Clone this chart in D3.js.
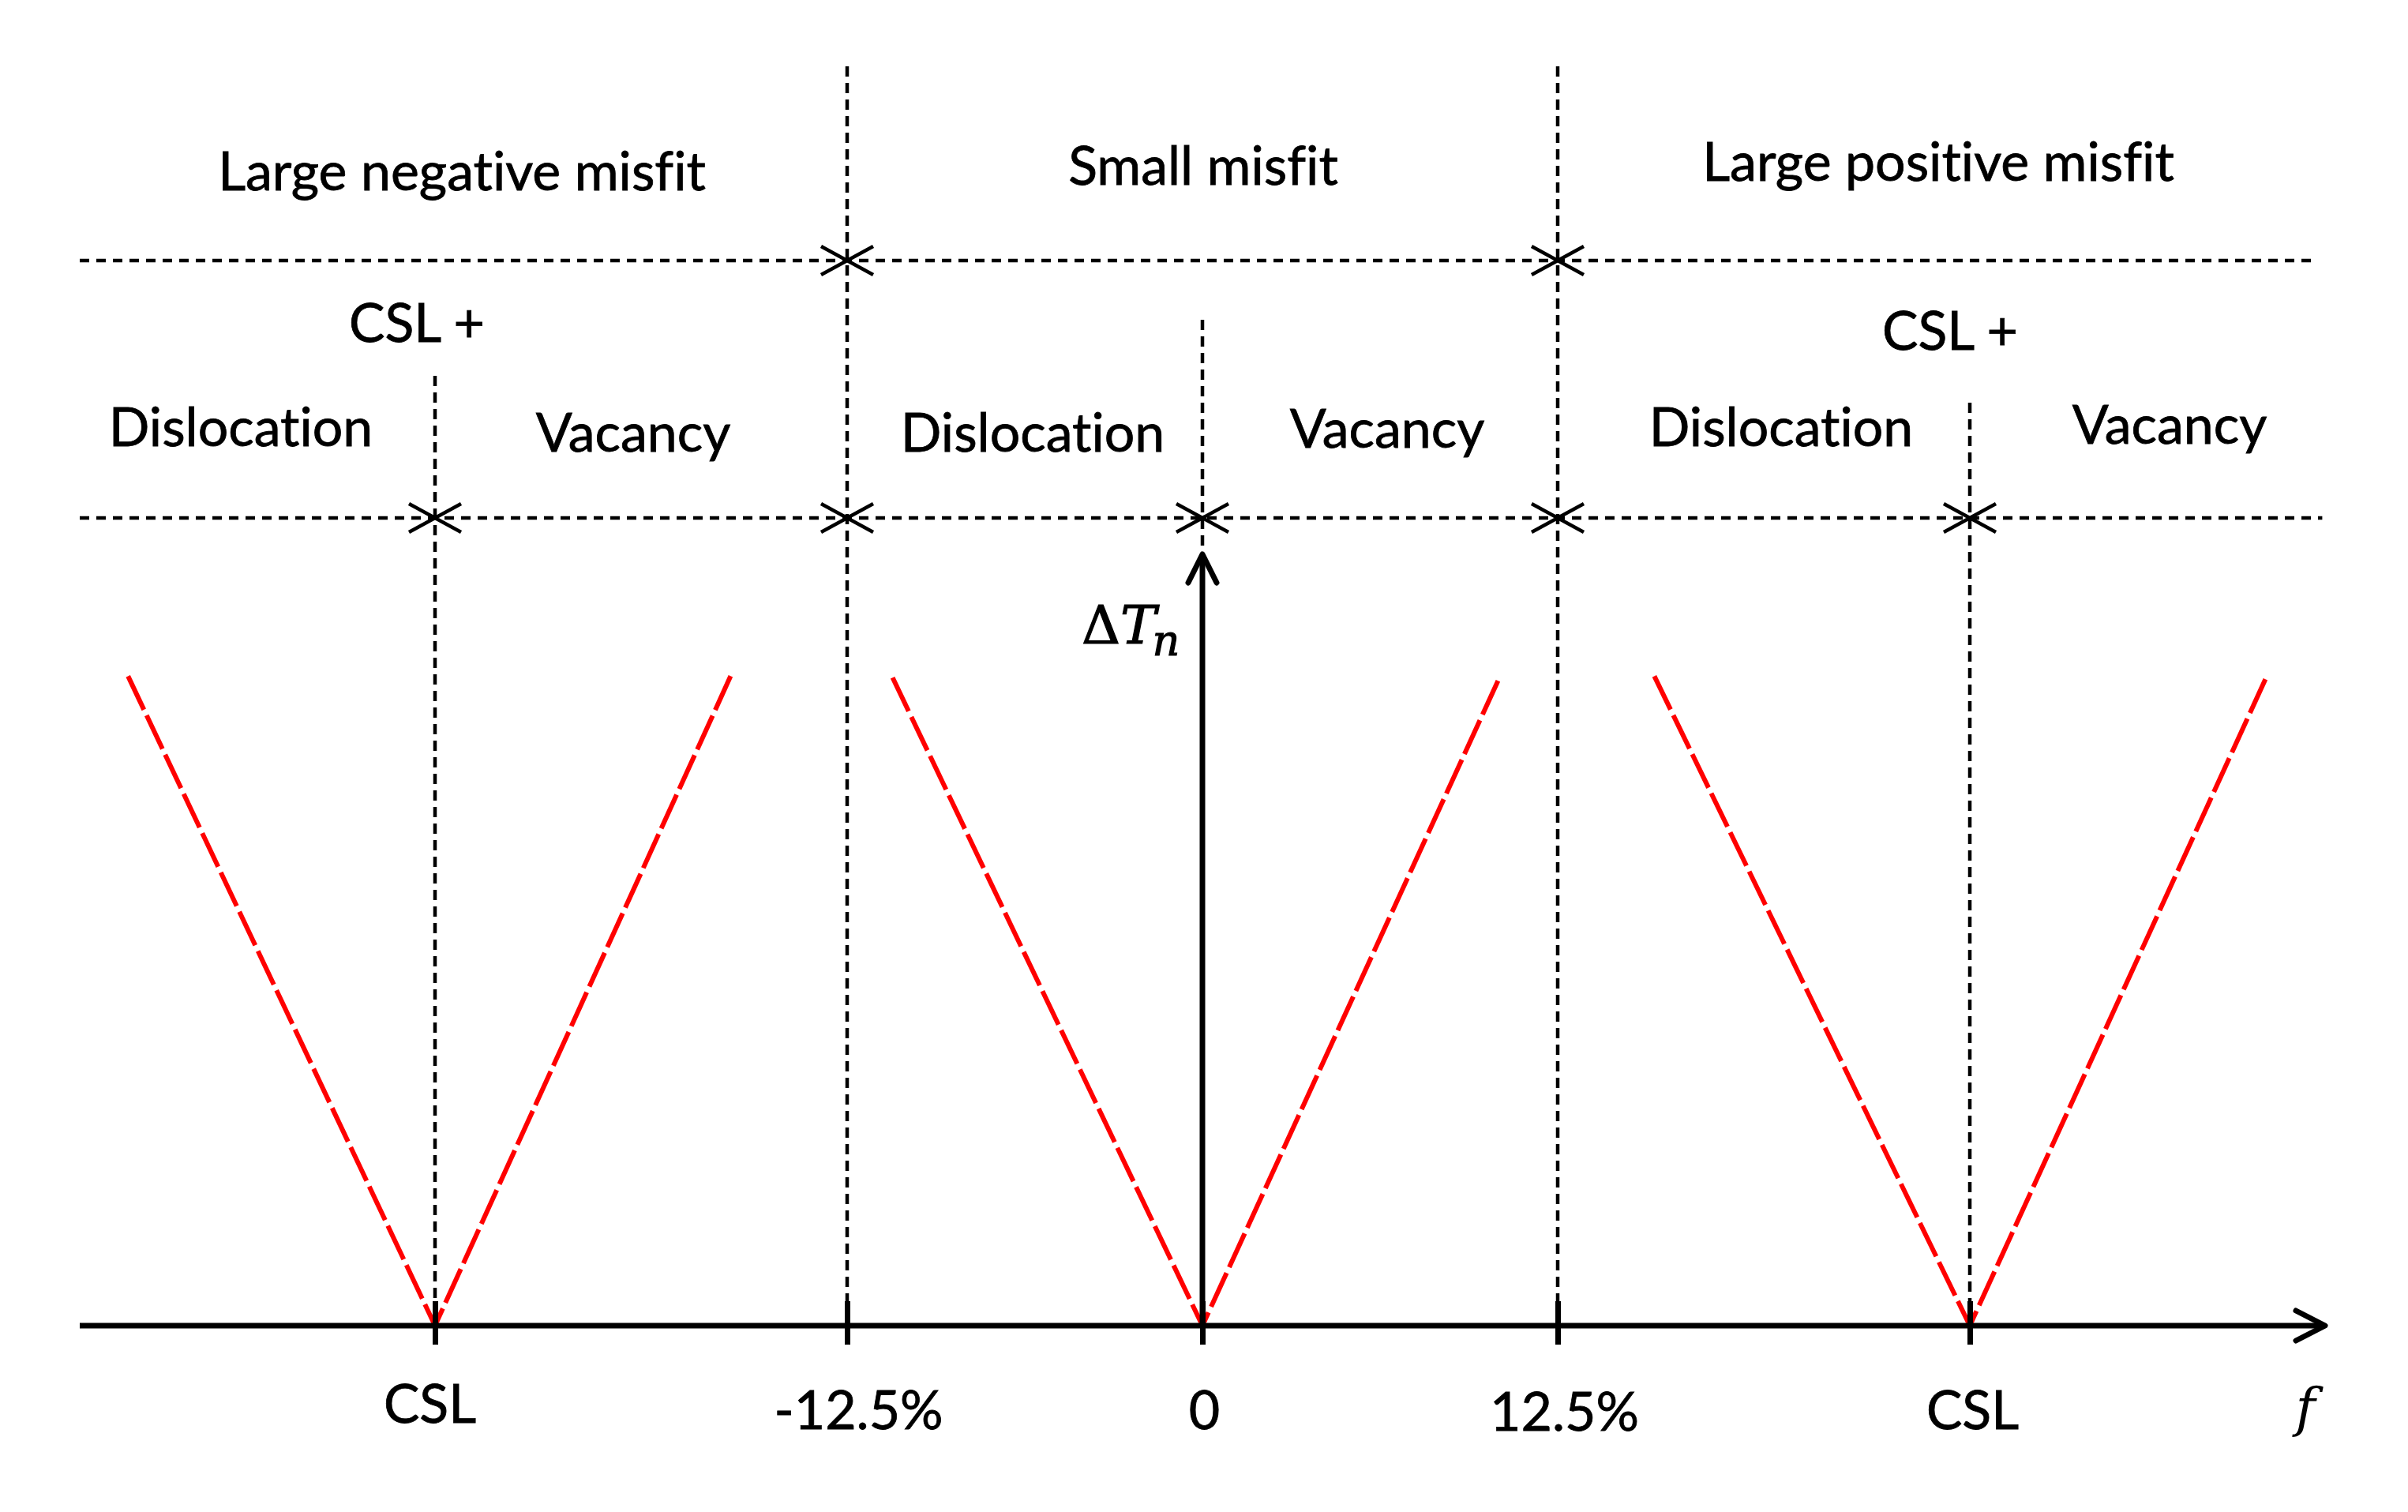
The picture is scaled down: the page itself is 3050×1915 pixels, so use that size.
<!DOCTYPE html>
<html lang="en">
<head>
<meta charset="UTF-8">
<title>Misfit regimes and ΔTn</title>
<script src="https://d3js.org/d3.v7.min.js"></script>
<style>
    body { margin: 0; background: #fff; }
    .lbl {
        font-family: Lato, 'Open Sans', sans-serif; font-size: 68px; fill: #000;
        font-variant-ligatures: none; font-feature-settings: "liga" 0, "clig" 0, "dlig" 0;
        stroke: #000; stroke-width: 0.8px;
    }
    .math { font-family: 'DejaVu Serif', serif; fill: #000; }
</style>
</head>
<body>
<div id="chart"></div>
<script>
    // misfit f (%) values
    const regionBounds = [-12.5, 12.5];
    const dividers = [-27, 0, 27];
    const tickValues = [-27, -12.5, 0, 12.5, 27];
    const tickLabels = ["CSL", "-12.5%", "0", "12.5%", "CSL"];
    const regionLabels = ["Large negative misfit", "Small misfit", "Large positive misfit"];
    const leftLabels = ["Dislocation", "Dislocation", "Dislocation"];
    const rightLabels = ["Vacancy", "Vacancy", "Vacancy"];
    const prefixLabels = ["CSL +", null, "CSL +"];

    // V-shaped ΔTn curves: vertex, arm ends (f) and arm heights (relative ΔTn)
    const vVertex = [-27, 0, 27];
    const vLeftF = [-37.8, -10.9, 15.9];
    const vRightF = [-16.6, 10.4, 37.4];
    const vLeftTop = [0.842, 0.840, 0.842];
    const vRightTop = [0.842, 0.836, 0.838];

    const width = 3050, height = 1915;

    const svg = d3.select("#chart").append("svg")
        .attr("width", width).attr("height", height)
        .attr("viewBox", `0 0 ${width} ${height}`);

    const x = d3.scaleLinear().domain([-40, 40]).range([83, 2963]);
    const y = d3.scaleLinear().domain([0, 1]).range([1679, 702]);

    // layout of the band rows (pixels)
    const rowTop = 330, rowMid = 656, lineTop = 84;
    const dividerTop = [476, 405, 510];
    const tickUp = 31, tickDown = 24;

    const dashBlack = g => g.attr("stroke", "#000").attr("stroke-width", 4.5).attr("fill", "none");

    // vertical region boundaries
    svg.selectAll(".bound").data(regionBounds).join("line")
        .attr("x1", d => x(d)).attr("x2", d => x(d))
        .attr("y1", lineTop).attr("y2", y(0) - tickUp)
        .call(dashBlack).attr("stroke-dasharray", "13,8");

    // sub dividers
    svg.selectAll(".divider").data(dividers).join("line")
        .attr("x1", d => x(d)).attr("x2", d => x(d))
        .attr("y1", (d, i) => dividerTop[i])
        .attr("y2", d => d === 0 ? y(1) - 4 : y(0) - tickUp)
        .call(dashBlack).attr("stroke-dasharray", "13,8");

    // horizontal row lines
    svg.append("line").attr("x1", x(-39.5)).attr("x2", x(39.1))
        .attr("y1", rowTop).attr("y2", rowTop)
        .call(dashBlack).attr("stroke-dasharray", "12,9");
    svg.append("line").attr("x1", x(-39.5)).attr("x2", x(39.4))
        .attr("y1", rowMid).attr("y2", rowMid)
        .call(dashBlack).attr("stroke-dasharray", "12,9");

    // cross markers where rows meet the dividers
    const cross = "M-33,-18L33,18M-33,18L33,-18";
    const marks = regionBounds.map(f => [f, rowTop])
        .concat(tickValues.map(f => [f, rowMid]));
    svg.selectAll(".mark").data(marks).join("path")
        .attr("transform", d => `translate(${x(d[0])},${d[1]})`)
        .attr("d", cross)
        .attr("stroke", "#000").attr("stroke-width", 4.5).attr("fill", "none");

    // red dashed V curves
    const arms = [];
    vVertex.forEach((v, i) => {
        arms.push({ f0: vLeftF[i], t0: vLeftTop[i], f1: v });
        arms.push({ f0: vRightF[i], t0: vRightTop[i], f1: v });
    });
    svg.selectAll(".arm").data(arms).join("line")
        .attr("x1", d => x(d.f0)).attr("y1", d => y(d.t0))
        .attr("x2", d => x(d.f1)).attr("y2", y(0))
        .attr("stroke", "#ff0000").attr("stroke-width", 6)
        .attr("stroke-dasharray", "47,8");

    // f axis with ticks
    const axisG = svg.append("g")
        .attr("transform", `translate(0,${y(0)})`)
        .call(d3.axisBottom(x).tickValues(tickValues)
            .tickFormat((d, i) => tickLabels[i]).tickSize(tickDown));
    axisG.select(".domain").remove();
    axisG.selectAll(".tick line")
        .attr("y1", -tickUp).attr("stroke", "#000").attr("stroke-width", 7);
    const tickDx = [-7, 14, 2, 8, 3];
    const tickBase = [123, 131, 131, 133, 131];
    axisG.selectAll(".tick text")
        .attr("class", "lbl").attr("fill", "#000")
        .attr("dy", null)
        .attr("x", (d, i) => tickDx[i])
        .attr("y", (d, i) => tickBase[i]);

    svg.append("line").attr("x1", x(-39.5)).attr("x2", x(39.5))
        .attr("y1", y(0)).attr("y2", y(0))
        .attr("stroke", "#000").attr("stroke-width", 7);
    svg.append("path")
        .attr("d", `M${x(39.5) - 37},${y(0) - 19}L${x(39.5)},${y(0)}L${x(39.5) - 37},${y(0) + 19}`)
        .attr("stroke", "#000").attr("stroke-width", 7).attr("fill", "none")
        .attr("stroke-linecap", "round").attr("stroke-linejoin", "round");

    // ΔTn axis
    svg.append("line").attr("x1", x(0)).attr("x2", x(0))
        .attr("y1", y(0)).attr("y2", y(1))
        .attr("stroke", "#000").attr("stroke-width", 7);
    svg.append("path")
        .attr("d", `M${x(0) - 18},${y(1) + 36}L${x(0)},${y(1)}L${x(0) + 18},${y(1) + 36}`)
        .attr("stroke", "#000").attr("stroke-width", 7).attr("fill", "none")
        .attr("stroke-linecap", "round").attr("stroke-linejoin", "round");

    // axis titles
    const yTitle = svg.append("text").attr("class", "math")
        .attr("x", x(0) - 153).attr("y", 815).attr("font-size", 68)
        .attr("stroke", "#000").attr("stroke-width", 1.2);
    yTitle.append("tspan").text("Δ");
    yTitle.append("tspan").attr("font-style", "italic").text("T");
    yTitle.append("tspan").attr("font-style", "italic").attr("font-size", 54)
        .attr("dy", 15).attr("dx", -5).text("n");

    svg.append("text").attr("class", "math")
        .attr("x", 2920).attr("y", 1806).attr("text-anchor", "middle")
        .attr("font-size", 68).attr("font-style", "italic").text("f");

    // band labels
    const regionX = [585, 1524, 2455];
    const regionBase = [241, 234, 229];
    svg.selectAll(".region").data(regionLabels).join("text")
        .attr("class", "lbl").attr("text-anchor", "middle")
        .attr("x", (d, i) => regionX[i]).attr("y", (d, i) => regionBase[i])
        .text(d => d);

    const prefixX = [528, 0, 2470];
    const prefixBase = [433, 0, 443];
    svg.selectAll(".prefix").data(prefixLabels.map((d, i) => ({ d, i })).filter(o => o.d))
        .join("text")
        .attr("class", "lbl").attr("text-anchor", "middle")
        .attr("x", o => prefixX[o.i]).attr("y", o => prefixBase[o.i])
        .text(o => o.d);

    const leftDx = [-246, -215, -239];
    const leftBase = [565, 572, 565];
    const rightDx = [251, 234, 253];
    const rightBase = [572, 567, 562];
    svg.selectAll(".left").data(leftLabels).join("text")
        .attr("class", "lbl").attr("text-anchor", "middle")
        .attr("x", (d, i) => x(dividers[i]) + leftDx[i]).attr("y", (d, i) => leftBase[i])
        .text(d => d);
    svg.selectAll(".right").data(rightLabels).join("text")
        .attr("class", "lbl").attr("text-anchor", "middle")
        .attr("x", (d, i) => x(dividers[i]) + rightDx[i]).attr("y", (d, i) => rightBase[i])
        .text(d => d);
</script>
</body>
</html>
